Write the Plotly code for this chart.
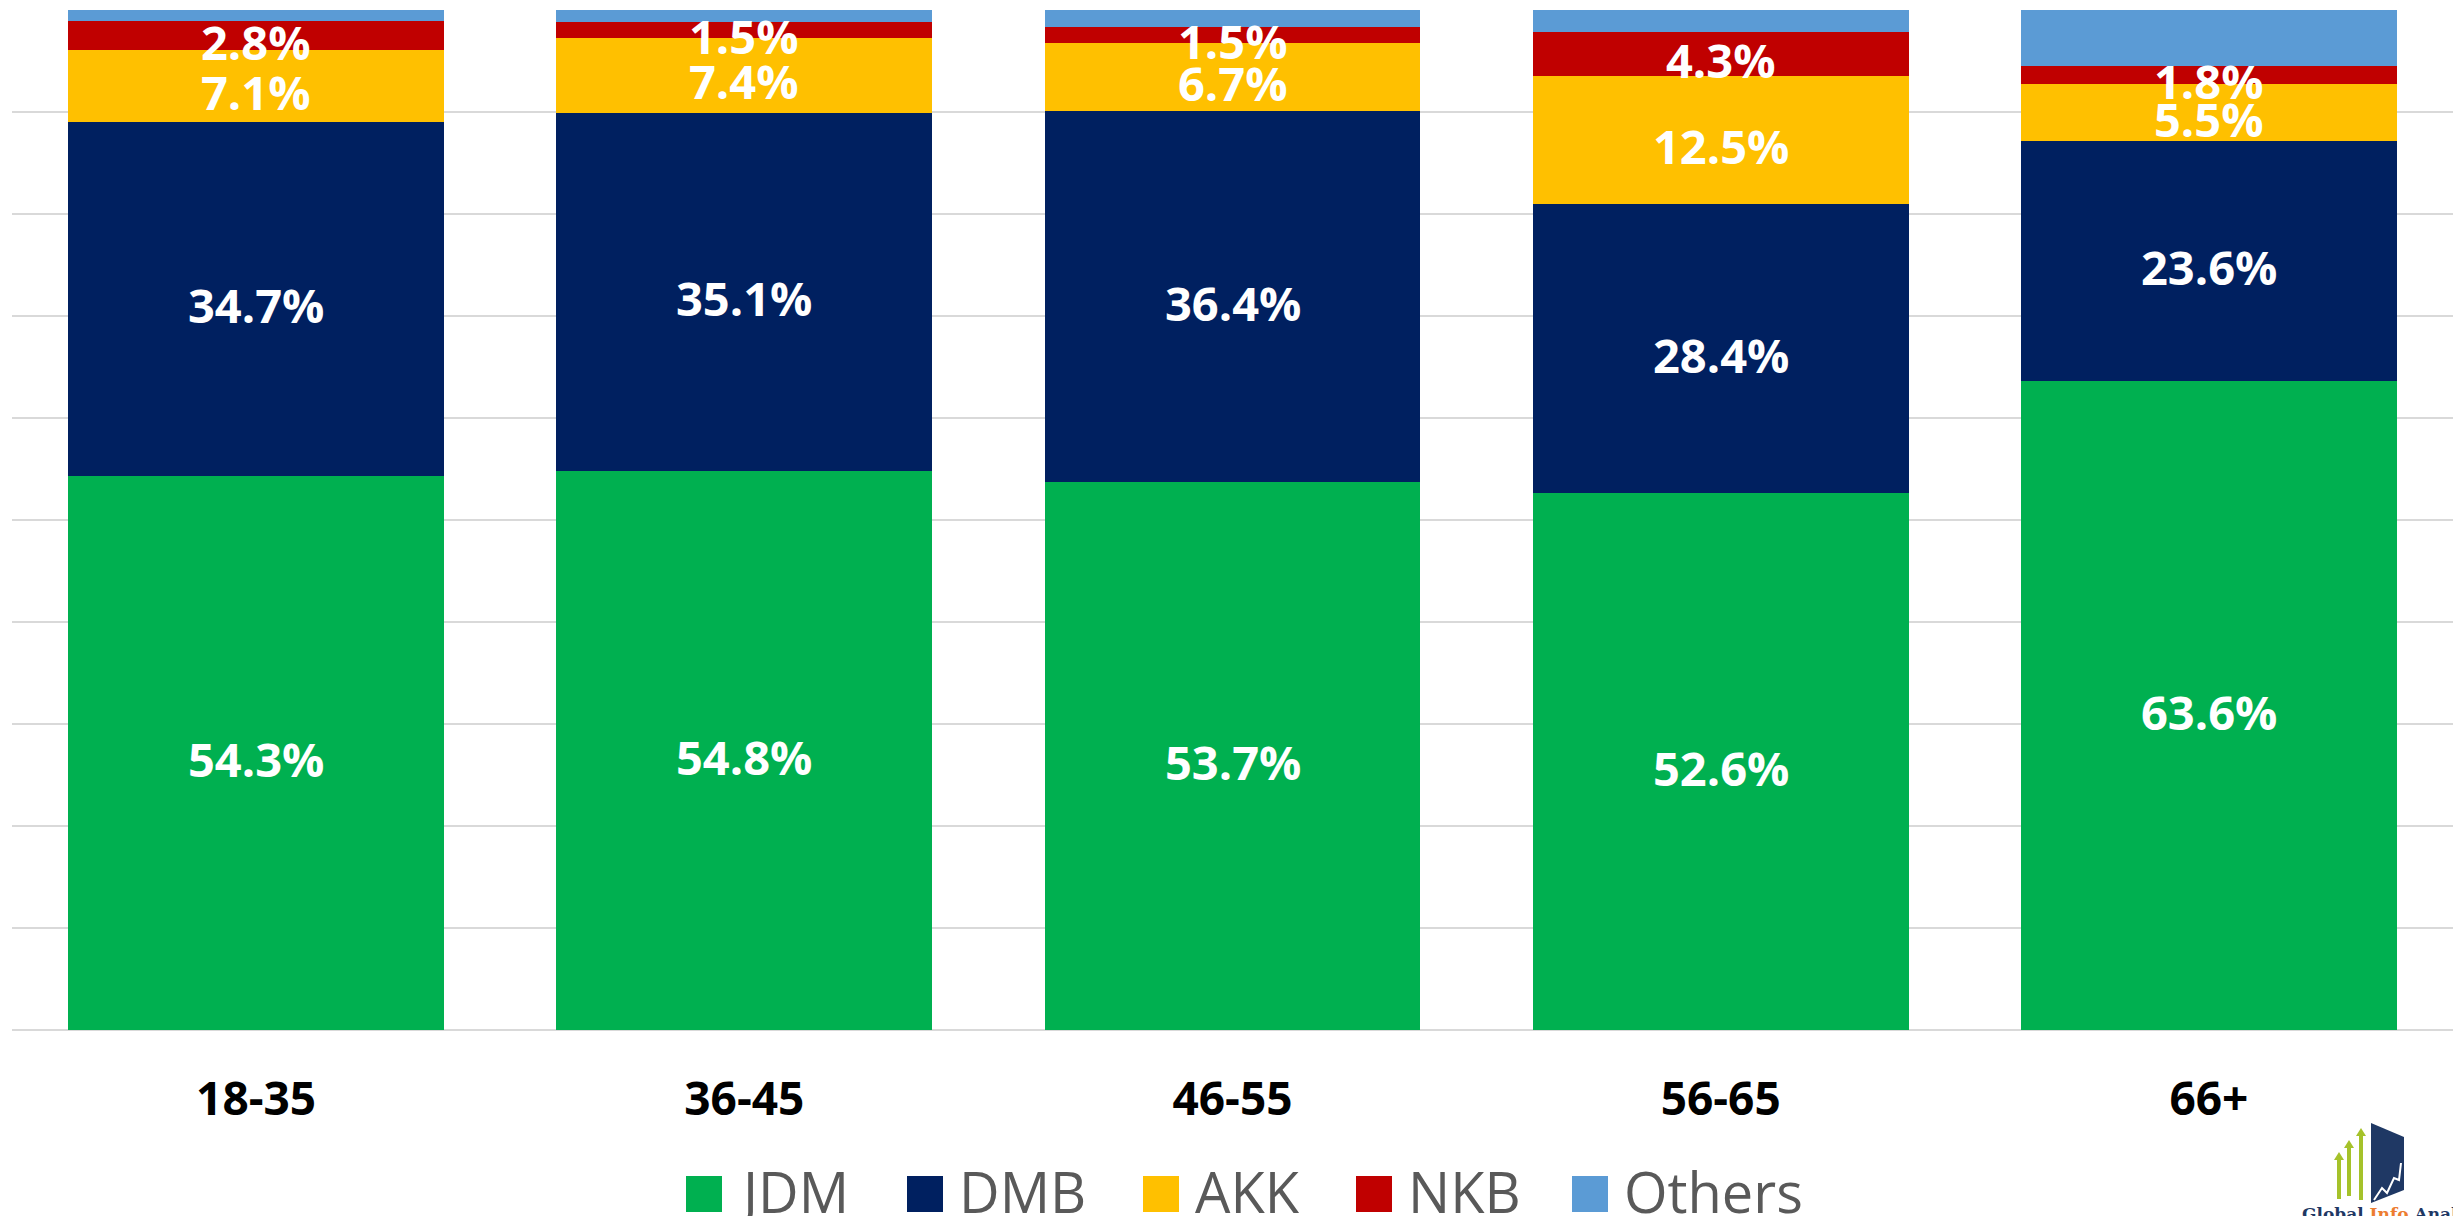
import plotly.graph_objects as go

categories = ["18-35", "36-45", "46-55", "56-65", "66+"]
series_names = ["JDM", "DMB", "AKK", "NKB", "Others"]
jdm = [54.3, 54.8, 53.7, 52.6, 63.6]
dmb = [34.7, 35.1, 36.4, 28.4, 23.6]
akk = [7.1, 7.4, 6.7, 12.5, 5.5]
nkb = [2.8, 1.5, 1.5, 4.3, 1.8]
others = [1.1, 1.2, 1.7, 2.2, 5.5]
series_values = [jdm, dmb, akk, nkb, others]
series_colors = ["#00B050", "#002060", "#FFC000", "#C00000", "#5B9BD5"]
show_labels = [True, True, True, True, False]

W, H = 2453, 1216
ML, MR, MT, MB = 12, 0, 10, 186
PW = W - ML - MR
PH = H - MT - MB
FONT = "Open Sans"


def px(x):
    return (x - ML) / PW


def py(y):
    return (H - MB - y) / PH


fig = go.Figure()
for name, vals, col in zip(series_names, series_values, series_colors):
    fig.add_trace(go.Bar(
        x=categories, y=vals, name=name,
        marker=dict(color=col, line=dict(width=0)),
        showlegend=False,
        hoverinfo="skip",
    ))

# data labels drawn on top of all bar segments (centre of each segment)
base = [0.0] * len(categories)
for name, vals, lab in zip(series_names, series_values, show_labels):
    if lab:
        for cat, b, v in zip(categories, base, vals):
            fig.add_annotation(
                x=cat, y=b + v / 2, xref="x", yref="y",
                text=f"{v:.1f}%", showarrow=False,
                xanchor="center", yanchor="middle", yshift=-6,
                font=dict(color="white", size=47, family=FONT, weight="bold"),
            )
    base = [b + v for b, v in zip(base, vals)]

fig.update_layout(
    barmode="stack",
    bargap=0.23,
    width=W, height=H,
    margin=dict(l=ML, r=MR, t=MT, b=MB, autoexpand=False),
    plot_bgcolor="white", paper_bgcolor="white",
    xaxis=dict(
        tickfont=dict(family=FONT, size=46, color="black", weight="bold"),
        ticks="", ticklabelstandoff=38, showline=False, showgrid=False,
    ),
    yaxis=dict(
        range=[0, 100], dtick=10, showticklabels=False,
        gridcolor="#D9D9D9", gridwidth=2,
        zeroline=True, zerolinecolor="#D9D9D9", zerolinewidth=2,
    ),
)

# manual legend (large squares like the original)
leg_sq_x = [686, 907, 1143, 1356, 1572]
leg_sq = 36
leg_cy = 1194
for name, col, x0 in zip(series_names, series_colors, leg_sq_x):
    fig.add_shape(type="rect", xref="paper", yref="paper",
                  x0=px(x0), x1=px(x0 + leg_sq),
                  y0=py(leg_cy + leg_sq / 2), y1=py(leg_cy - leg_sq / 2),
                  fillcolor=col, line=dict(width=0))
    fig.add_annotation(xref="paper", yref="paper",
                       x=px(x0 + leg_sq + 14), y=py(leg_cy - 3),
                       xanchor="left", yanchor="middle", showarrow=False,
                       text=name,
                       font=dict(family=FONT, size=56, color="#595959"))

# logo (bottom right)
navy = "#1F3864"
green = "#A5C22A"
quad = [(2371, 1123), (2404, 1137), (2404, 1190), (2371, 1203)]
path = "M " + " L ".join(f"{px(a)},{py(b)}" for a, b in quad) + " Z"
fig.add_shape(type="path", xref="paper", yref="paper", path=path,
              fillcolor=navy, line=dict(width=0))
zz = [(2374, 1200), (2382, 1188), (2387, 1193), (2394, 1178), (2399, 1180), (2401, 1163)]
fig.add_shape(type="path", xref="paper", yref="paper",
              path="M " + " L ".join(f"{px(a)},{py(b)}" for a, b in zz),
              line=dict(color="white", width=2))
for ax, top, bot in [(2339, 1152, 1199), (2349, 1140, 1196), (2361, 1128, 1200)]:
    fig.add_shape(type="rect", xref="paper", yref="paper",
                  x0=px(ax - 2), x1=px(ax + 2), y0=py(bot), y1=py(top + 7),
                  fillcolor=green, line=dict(width=0))
    tri = [(ax - 5, top + 8), (ax, top), (ax + 5, top + 8)]
    fig.add_shape(type="path", xref="paper", yref="paper",
                  path="M " + " L ".join(f"{px(a)},{py(b)}" for a, b in tri) + " Z",
                  fillcolor=green, line=dict(width=0))
fig.add_annotation(xref="paper", yref="paper", x=px(2300), y=py(1214),
                   xanchor="left", yanchor="middle", showarrow=False,
                   text="<b><span style='color:#1F3864'>Global </span><span style='color:#ED7D31'>Info</span><span style='color:#1F3864'> Analytics</span></b>",
                   font=dict(family="DejaVu Serif", size=17))

fig.write_html(
    "out.html",
    config={"displayModeBar": False},
    post_script="document.body.style.margin='0';document.body.style.overflow='hidden';",
)
